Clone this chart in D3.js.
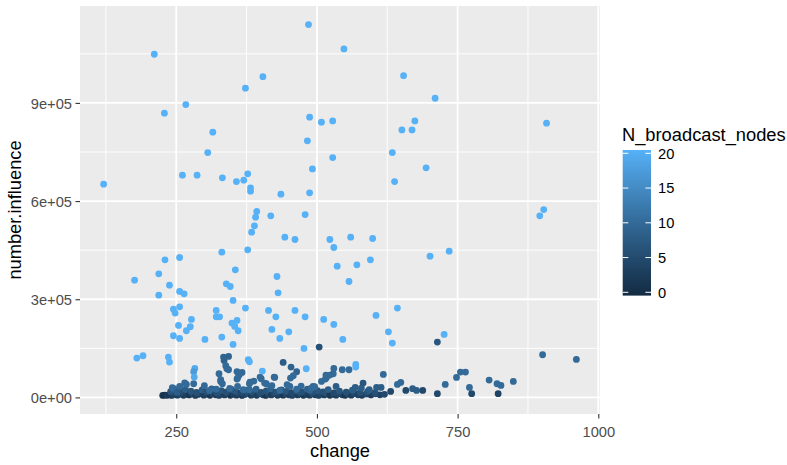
<!DOCTYPE html>
<html><head><meta charset="utf-8">
<script src="https://cdn.jsdelivr.net/npm/d3@7"></script>
<style>
body{margin:0;background:#fff}
svg{display:block}
text{font-family:"Liberation Sans",Arial,sans-serif}
</style>
</head><body>
<svg id="chart" width="787" height="465"></svg>
<script>
// [change, number.influence, N_broadcast_nodes]
const basePoints = [
[226,6000,2],[230,7000,1],[234,6500,3],[238,8000,2],[242,6000,3],[247,9000,4],[252,7000,3],[258,10000,5],[263,6500,3],[268,9500,4],
[273,7500,2],[279,11000,5],[284,6000,3],[289,9000,4],[294,12000,5],[299,7000,3],[305,10000,4],[310,6500,2],[315,11500,5],[320,8000,3],
[326,6000,4],[331,10500,5],[336,7500,3],[341,12500,6],[346,6500,2],[352,9500,4],[357,7000,3],[362,11000,5],[367,6000,2],[372,9000,4],
[378,12000,6],[383,7000,3],[388,10000,4],[393,6500,3],[398,11500,5],[404,8000,4],[409,6000,2],[414,10500,5],[419,7500,3],[424,12000,5],
[430,6500,3],[435,9500,4],[440,7000,2],[445,11000,5],[450,8000,3],[456,6000,4],[461,10000,5],[466,7500,3],[471,12500,6],[476,6500,2],
[482,9000,4],[487,7000,3],[492,11000,5],[497,8000,3],[503,6000,4],[508,10500,5],[513,7500,3],[518,12000,6],[523,6500,2],[529,9500,4],
[534,7000,3],[539,11500,5],[545,8000,4],[550,6500,2],[556,10000,5],[561,7000,3],[567,12000,5],[573,8000,4],[580,6500,3],[588,10500,5],
[596,7500,3],[604,11000,5],[612,8000,4],[620,9500,5]
];
const lowPoints = [
[240,18000,7],[249,22000,8],[257,16000,6],[266,24000,8],[276,19000,7],[286,15000,6],[296,23000,8],[304,17000,6],[313,26000,9],[322,14500,6],
[330,21000,7],[339,16500,6],[348,24500,8],[356,18000,7],[365,14000,5],[374,22500,8],[384,17000,6],[392,25000,9],[401,15500,6],[410,20000,7],
[418,26500,9],[427,16000,6],[437,23000,8],[446,18500,7],[455,14500,5],[464,21500,8],[473,16500,6],[483,25500,9],[492,15000,6],[501,20500,7],
[511,17000,6],[520,24000,8],[530,14000,5],[540,19500,7],[552,16000,6],[563,22000,8],[577,15000,6],[590,18000,7],[603,14500,6]
];
const midPoints = [
[504,153800,6],[714,169000,7],[901,130400,10],[961,116000,10],[748,61200,10],[755,77500,10],[764,77500,10],[771,30600,10],[775,11300,5],
[806,53000,10],[820,41800,10],[827,36700,10],[822,11300,4],[849,49000,10],[530,88700,10],[545,84600,10],[557,84600,10],[529,72400,10],
[516,68300,10],[523,68300,10],[515,56100,10],[618,70300,10],[582,43900,7],[649,45900,10],[643,39800,10],[728,39800,10],[493,33700,10],
[487,21500,9],[534,33700,8],[568,30600,8],[579,28600,8],[606,30600,8],[614,30600,8],[593,23500,8],[631,18400,5],[658,21500,5],[670,26600,8],
[677,21500,8],[688,21500,5],[714,11300,5],[334,123300,9],[343,125300,9],[335,113100,9],[338,96800,10],[343,84600,10],[326,72400,10],
[358,78500,10],[367,76400,10],[362,68300,10],[358,56100,10],[329,54000,10],[332,41800,10],[440,107000,8],[454,92700,9],[464,78500,9],
[458,66300,10],[424,62200,10],[399,62200,10],[388,50000,10],[380,41800,10],[410,41800,10],[420,35700,10],[300,35700,10],[281,41800,10],
[268,39800,10],[256,33700,10],[245,27600,10],[251,15400,8],[359,33700,10],[345,27600,10],[369,23500,10],[380,23500,10],[452,33700,10],
[464,25600,10],[434,21500,10],[321,25600,10],[309,21500,10],[340,87700,10],[359,59200,10],[329,49000,10],[381,47000,10],[401,57100,10],
[407,43900,10],[425,61200,10],[453,59200,10],[447,38800,10],[472,34800,10],[490,28600,10],[496,32700,10],[508,49000,10],[517,61200,10],
[265,44000,10],[243,29600,10]
];
const lightPoints = [
[485,1139500,20],[211,1048700,20],[404,980300,20],[373,944900,20],[267,894800,20],[229,868500,20],[487,856300,20],[508,841000,20],
[528,845000,20],[315,810500,20],[483,784000,20],[306,748200,20],[528,733000,20],[492,698400,20],[261,679200,20],[287,679200,20],
[377,683200,20],[332,671000,20],[357,659700,20],[370,664000,20],[382,640400,20],[382,630300,20],[121,651700,20],[436,621200,20],
[487,625100,20],[548,1065000,20],[654,983400,20],[710,914300,20],[674,845000,20],[651,817600,20],[669,817600,20],[908,838000,20],
[634,748200,20],[694,701500,20],[638,659700,20],[393,568100,20],[391,550800,20],[418,554900,20],[479,558900,20],[389,524300,20],
[384,505000,20],[443,489700,20],[461,482600,20],[523,482600,20],[530,458200,20],[377,451000,20],[331,443900,20],[230,420500,20],
[256,427600,20],[536,401100,20],[355,390000,20],[219,377700,20],[429,369600,20],[176,358400,20],[238,343100,20],[339,347200,20],
[346,339000,20],[256,323800,20],[264,316700,20],[219,312600,20],[431,319700,20],[351,296300,20],[256,277000,20],[373,272900,20],
[245,269800,20],[248,257600,20],[321,265800,20],[414,265800,20],[461,265800,20],[321,246400,20],[327,246400,20],[427,246400,20],
[479,246400,20],[277,238300,20],[512,238300,20],[530,223000,20],[358,235200,20],[349,227100,20],[254,220000,20],[275,215900,20],
[354,216900,20],[268,203700,20],[360,203700,20],[420,207700,20],[450,200600,20],[245,188400,20],[256,180200,20],[301,177200,20],
[331,184300,20],[434,180200,20],[351,161900,20],[477,149700,20],[191,127300,20],[180,120200,20],[236,123300,20],[903,574200,20],
[896,554900,20],[560,489700,20],[599,485600,20],[571,405200,20],[595,420500,20],[701,431700,20],[735,447000,20],[557,354300,20],
[643,272900,20],[605,250500,20],[627,200600,20],[634,166000,20],[726,192500,20],[546,177200,20],[238,108000,20],[283,88700,19],
[281,78500,17],[282,62200,19],[378,115100,20],[380,109000,20],[403,80500,20],[481,87600,20],[569,100900,20],[569,92700,20]
];
const xMajorTicks = [250, 500, 750, 1000];
const xMinorTicks = [125, 375, 625, 875];
const yMajorTicks = [0, 300000, 600000, 900000];
const yMinorTicks = [150000, 450000, 750000, 1050000];
const yTickLabels = ["0e+00", "3e+05", "6e+05", "9e+05"];
const legendTicks = [0, 5, 10, 15, 20];

const points = basePoints.concat(lowPoints, midPoints, lightPoints);

const P = {l: 80, r: 600, t: 6, b: 414};
const svg = d3.select("#chart");

function expand(ext) { const d = (ext[1] - ext[0]) * 0.05; return [ext[0] - d, ext[1] + d]; }
const x = d3.scaleLinear().domain(expand(d3.extent(points, d => d[0]))).range([P.l, P.r]);
const y = d3.scaleLinear().domain(expand(d3.extent(points, d => d[1]))).range([P.b, P.t]);
const color = d3.scaleLinear().domain([0, 20]).range(["#132B43", "#56B1F7"]).interpolate(d3.interpolateLab);

// panel
svg.append("rect").attr("x", P.l).attr("y", P.t).attr("width", P.r - P.l).attr("height", P.b - P.t).attr("fill", "#EBEBEB");
const grid = svg.append("g");
grid.selectAll(".xmin").data(xMinorTicks).join("line")
  .attr("x1", d => x(d)).attr("x2", d => x(d)).attr("y1", P.t).attr("y2", P.b)
  .attr("stroke", "#fff").attr("stroke-width", 0.9);
grid.selectAll(".ymin").data(yMinorTicks.filter(v => y(v) > P.t)).join("line")
  .attr("x1", P.l).attr("x2", P.r).attr("y1", d => y(d)).attr("y2", d => y(d))
  .attr("stroke", "#fff").attr("stroke-width", 0.9);
grid.selectAll(".xmaj").data(xMajorTicks).join("line")
  .attr("x1", d => x(d)).attr("x2", d => x(d)).attr("y1", P.t).attr("y2", P.b)
  .attr("stroke", "#fff").attr("stroke-width", 1.8);
grid.selectAll(".ymaj").data(yMajorTicks).join("line")
  .attr("x1", P.l).attr("x2", P.r).attr("y1", d => y(d)).attr("y2", d => y(d))
  .attr("stroke", "#fff").attr("stroke-width", 1.8);

// points
svg.append("g").selectAll("circle").data(points).join("circle")
  .attr("cx", d => x(d[0])).attr("cy", d => y(d[1])).attr("r", 3.4)
  .attr("fill", d => color(d[2]));

// axes
const xAxis = d3.axisBottom(x).tickValues(xMajorTicks).tickSize(4.5).tickPadding(3).tickFormat(d3.format("d"));
const gx = svg.append("g").attr("transform", `translate(0,${P.b})`).call(xAxis);
gx.select(".domain").remove();
gx.selectAll(".tick line").attr("stroke", "#333333").attr("stroke-width", 1.1);
gx.selectAll(".tick text").attr("fill", "#4D4D4D").style("font-size", "14.7px")
  .style("font-family", '"Liberation Sans",Arial,sans-serif').attr("y", 22.5).attr("dy", 0);

const yAxis = d3.axisLeft(y).tickValues(yMajorTicks).tickSize(4.5).tickPadding(3)
  .tickFormat((d, i) => yTickLabels[i]);
const gy = svg.append("g").attr("transform", `translate(${P.l},0)`).call(yAxis);
gy.select(".domain").remove();
gy.selectAll(".tick line").attr("stroke", "#333333").attr("stroke-width", 1.1);
gy.selectAll(".tick text").attr("fill", "#4D4D4D").style("font-size", "14.7px")
  .style("font-family", '"Liberation Sans",Arial,sans-serif').attr("x", -8).attr("dy", "0.36em");

// axis titles
svg.append("text").attr("x", (P.l + P.r) / 2).attr("y", 457).attr("text-anchor", "middle")
  .style("font-size", "18.3px").attr("fill", "#000").text("change");
svg.append("text").attr("transform", `translate(21,${(P.t + P.b) / 2}) rotate(-90)`).attr("text-anchor", "middle")
  .style("font-size", "18.3px").attr("fill", "#000").text("number.influence");

// legend
const lg = d3.scaleLinear().domain([0, 20]).range([292.3, 153.3]);
const barX = 622.7, barW = 28.3;
const defs = svg.append("defs");
const grad = defs.append("linearGradient").attr("id", "cbar").attr("x1", 0).attr("y1", 1).attr("x2", 0).attr("y2", 0);
d3.range(0, 21).forEach(v => grad.append("stop").attr("offset", v / 20).attr("stop-color", color(v)));
svg.append("rect").attr("x", barX).attr("y", lg(20) - 3.3).attr("width", barW).attr("height", lg(0) - lg(20) + 6.6)
  .attr("fill", "url(#cbar)");
const lt = svg.append("g");
lt.selectAll(".tl").data(legendTicks).join("line").attr("x1", barX).attr("x2", barX + 5.6)
  .attr("y1", d => lg(d)).attr("y2", d => lg(d)).attr("stroke", "#fff").attr("stroke-width", 1);
lt.selectAll(".tr").data(legendTicks).join("line").attr("x1", barX + barW - 5.6).attr("x2", barX + barW)
  .attr("y1", d => lg(d)).attr("y2", d => lg(d)).attr("stroke", "#fff").attr("stroke-width", 1);
lt.selectAll("text").data(legendTicks).join("text").attr("x", 658).attr("y", d => lg(d)).attr("dy", "0.36em")
  .style("font-size", "14.7px").attr("fill", "#000").text(d => d);
svg.append("text").attr("x", 622).attr("y", 141).style("font-size", "18.3px").attr("fill", "#000").text("N_broadcast_nodes");
</script>
</body></html>
